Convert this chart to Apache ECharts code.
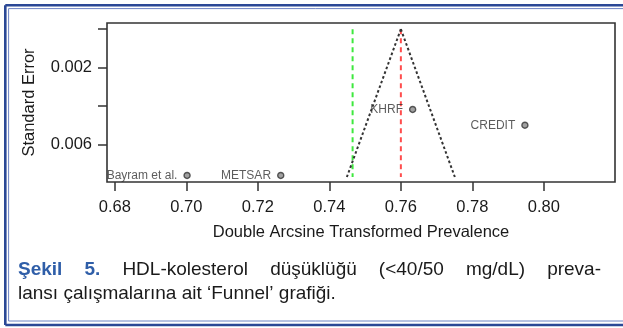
<!DOCTYPE html>
<html>
<head>
<meta charset="utf-8">
<script src="https://cdn.jsdelivr.net/npm/echarts@6/dist/echarts.min.js"></script>
<style>
  html, body { margin: 0; padding: 0; background: #fff; }
  #chart { width: 623px; height: 328px; }
</style>
</head>
<body>
<div id="chart"></div>
<script>
// Studies in the funnel plot: double-arcsine transformed prevalence vs. standard error
const studies = ['Bayram et al.', 'METSAR', 'KHRF', 'CREDIT'];
const prevalence = [0.7002, 0.7264, 0.7633, 0.7947];
const standardError = [0.0076, 0.0076, 0.00417, 0.00499];

// Pooled estimate (red), alternative estimate (green) and funnel limits at the widest SE
const pooledEstimate = 0.76;
const altEstimate = 0.7465;
const funnelMaxSE = 0.00768;
const funnelLimits = [0.7449, 0.7751];

// Axis ticks and labels
const xTicks = [0.68, 0.70, 0.72, 0.74, 0.76, 0.78, 0.80];
const yTicks = [0, 0.002, 0.004, 0.006];
const yTickLabels = [0.002, 0.006];

// Caption text
const captionLead = ['Şekil', '5.'];
const captionLine1 = ['HDL-kolesterol', 'düşüklüğü', '(<40/50', 'mg/dL)', 'preva-'];
const captionLine2 = 'lansı çalışmalarına ait ‘Funnel’ grafiği.';

const FONT = '"Liberation Sans", Arial, Helvetica, sans-serif';
const ink = '#333333';

const chart = echarts.init(document.getElementById('chart'), null, { renderer: 'canvas' });

// Justify the first caption line between its left and right margins
const capSize = 19;
const capLeft = 18, capRight = 601;
const ctx = document.createElement('canvas').getContext('2d');
const leadFont = 'bold ' + capSize + 'px ' + FONT;
const bodyFont = capSize + 'px ' + FONT;
const words = captionLead.map(w => ({ text: w, bold: true }))
  .concat(captionLine1.map(w => ({ text: w, bold: false })));
let total = 0;
words.forEach(w => {
  ctx.font = w.bold ? leadFont : bodyFont;
  w.width = ctx.measureText(w.text).width;
  total += w.width;
});
const gap = (capRight - capLeft - total) / (words.length - 1);
let cx = capLeft;
const captionGraphics = words.map(w => {
  const g = {
    type: 'text', left: cx, top: 260,
    style: {
      text: w.text, font: (w.bold ? leadFont : bodyFont),
      fill: w.bold ? '#2f5ea8' : '#1a1a1a'
    }
  };
  cx += w.width + gap;
  return g;
});
captionGraphics.push({
  type: 'text', left: capLeft, top: 284,
  style: { text: captionLine2, font: bodyFont, fill: '#1a1a1a' }
});

const frameThick = '#2b4896';
const frameThin = '#6f84c4';

const option = {
  backgroundColor: '#ffffff',
  animation: false,
  grid: {
    show: true, left: 107, top: 23, width: 508, height: 159,
    borderColor: ink, borderWidth: 1.6, backgroundColor: 'transparent'
  },
  xAxis: {
    type: 'value', min: 0.6778, max: 0.8199,
    name: 'Double Arcsine Transformed Prevalence',
    nameLocation: 'middle', nameGap: 42,
    nameTextStyle: { fontFamily: FONT, fontSize: 16.5, color: '#1a1a1a' },
    axisLine: { show: false, onZero: false },
    axisTick: { show: true, customValues: xTicks, length: 9, inside: false,
      lineStyle: { color: ink, width: 1.5 } },
    axisLabel: { customValues: xTicks, margin: 17, fontFamily: FONT, fontSize: 16.5,
      color: '#1a1a1a', formatter: v => v.toFixed(2) },
    splitLine: { show: false }
  },
  yAxis: {
    type: 'value', inverse: true, min: -0.00032, max: 0.00794,
    name: 'Standard Error',
    nameLocation: 'middle', nameGap: 69,
    nameTextStyle: { fontFamily: FONT, fontSize: 16.5, color: '#1a1a1a' },
    axisLine: { show: false, onZero: false },
    axisTick: { show: true, customValues: yTicks, length: 9, inside: false,
      lineStyle: { color: ink, width: 1.5 } },
    axisLabel: { customValues: yTickLabels, margin: 15, fontFamily: FONT, fontSize: 16.5,
      color: '#1a1a1a', formatter: v => v.toFixed(3) },
    splitLine: { show: false }
  },
  graphic: [
    // double frame around the figure
    { type: 'line', shape: { x1: 5.3, y1: 5.3, x2: 623, y2: 5.3 }, style: { stroke: frameThick, lineWidth: 2.6 } },
    { type: 'line', shape: { x1: 5.3, y1: 5.3, x2: 5.3, y2: 325 }, style: { stroke: frameThick, lineWidth: 2.6 } },
    { type: 'line', shape: { x1: 5.3, y1: 325, x2: 623, y2: 325 }, style: { stroke: frameThick, lineWidth: 2.6 } },
    { type: 'line', shape: { x1: 8.6, y1: 8.6, x2: 623, y2: 8.6 }, style: { stroke: frameThin, lineWidth: 1 } },
    { type: 'line', shape: { x1: 8.6, y1: 8.6, x2: 8.6, y2: 321 }, style: { stroke: frameThin, lineWidth: 1 } },
    { type: 'line', shape: { x1: 8.6, y1: 321, x2: 623, y2: 321 }, style: { stroke: frameThin, lineWidth: 1 } }
  ].concat(captionGraphics),
  series: [
    {
      type: 'line', symbol: 'none', z: 2,
      data: [[altEstimate, 0], [altEstimate, funnelMaxSE]],
      lineStyle: { color: '#3ee83e', width: 2, type: [5, 4] }
    },
    {
      type: 'line', symbol: 'none', z: 2,
      data: [[pooledEstimate, 0], [pooledEstimate, funnelMaxSE]],
      lineStyle: { color: '#ff4d4d', width: 2, type: [5, 4] }
    },
    {
      type: 'line', symbol: 'none', z: 3,
      data: [[pooledEstimate, 0], [funnelLimits[0], funnelMaxSE]],
      lineStyle: { color: '#333', width: 2, type: [2.6, 2.4] }
    },
    {
      type: 'line', symbol: 'none', z: 3,
      data: [[pooledEstimate, 0], [funnelLimits[1], funnelMaxSE]],
      lineStyle: { color: '#333', width: 2, type: [2.6, 2.4] }
    },
    {
      type: 'scatter', z: 4,
      symbol: 'circle', symbolSize: 6,
      data: studies.map((s, i) => ({ name: s, value: [prevalence[i], standardError[i]] })),
      itemStyle: { color: '#8a8a8a', borderColor: '#333', borderWidth: 1.4 },
      label: {
        show: true, position: 'left', distance: 6,
        formatter: p => p.name,
        fontFamily: FONT, fontSize: 12, color: '#333'
      }
    }
  ]
};

chart.setOption(option);
</script>
</body>
</html>
